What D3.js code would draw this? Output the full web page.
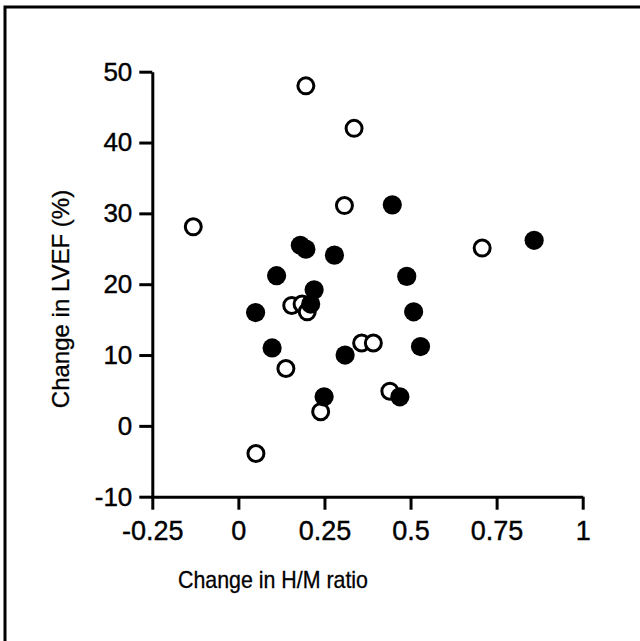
<!DOCTYPE html>
<html>
<head>
<meta charset="utf-8">
<script src="https://cdn.jsdelivr.net/npm/d3@7"></script>
<style>
  html, body { margin: 0; padding: 0; background: #fff; }
  svg { display: block; }
</style>
</head>
<body>
<script>
// ---- data ----
const filledX = [0.180, 0.196, 0.279, 0.111, 0.220, 0.210, 0.050, 0.098, 0.310, 0.249, 0.447, 0.859, 0.489, 0.509, 0.529, 0.469];
const filledY = [25.5, 24.95, 24.1, 21.2, 19.2, 17.2, 16.0, 11.0, 10.0, 4.1, 31.2, 26.2, 21.1, 16.1, 11.2, 4.1];
const openX = [0.196, 0.336, 0.308, -0.131, 0.155, 0.185, 0.200, 0.138, 0.239, 0.358, 0.392, 0.051, 0.708, 0.440];
const openY = [48.0, 42.0, 31.1, 28.1, 17.0, 17.2, 16.1, 8.1, 2.0, 11.7, 11.7, -3.9, 25.1, 4.9];
const xTicks = [-0.25, 0, 0.25, 0.5, 0.75, 1];
const xTickLabels = ["-0.25", "0", "0.25", "0.5", "0.75", "1"];
const yTicks = [-10, 0, 10, 20, 30, 40, 50];
const yTickLabels = ["-10", "0", "10", "20", "30", "40", "50"];
const xTitle = "Change in H/M ratio";
const yTitle = "Change in LVEF (%)";

const W = 640, H = 641;
const svg = d3.select("body").append("svg").attr("width", W).attr("height", H);
const font = "'Liberation Sans', Arial, Helvetica, sans-serif";

// frame
svg.append("path")
  .attr("d", `M5,${H + 5} L5,7 L${W + 5},7`)
  .attr("fill", "none").attr("stroke", "#000").attr("stroke-width", 3);

const x = d3.scaleLinear().domain([-0.25, 1]).range([152.3, 582.7]);
const y = d3.scaleLinear().domain([-10, 50]).range([496.7, 71.7]);

// y axis
const gy = svg.append("g").attr("transform", `translate(${x(-0.25)},0)`)
  .call(d3.axisLeft(y).tickValues(yTicks).tickFormat((d, i) => yTickLabels[i]).tickSize(13).tickSizeOuter(0).tickPadding(7));
// x axis
const gx = svg.append("g").attr("transform", `translate(0,${y(-10)})`)
  .call(d3.axisBottom(x).tickValues(xTicks).tickFormat((d, i) => xTickLabels[i]).tickSize(13).tickSizeOuter(0).tickPadding(11));

[gx, gy].forEach(g => {
  g.select(".domain").attr("stroke", "#000").attr("stroke-width", 3);
  g.selectAll(".tick line").attr("stroke", "#000").attr("stroke-width", 3);
  g.selectAll(".tick text").attr("fill", "#000").attr("font-family", font)
    .attr("stroke", "#000").attr("stroke-width", 0.4);
});
gy.selectAll(".tick text").attr("font-size", 26);
gx.selectAll(".tick text").attr("font-size", 27);

// open circles (white fill), drawn first
svg.append("g").selectAll("circle")
  .data(openX.map((v, i) => [v, openY[i]]))
  .join("circle")
  .attr("cx", d => x(d[0])).attr("cy", d => y(d[1])).attr("r", 8)
  .attr("fill", "#fff").attr("stroke", "#000").attr("stroke-width", 3);

// filled circles
svg.append("g").selectAll("circle")
  .data(filledX.map((v, i) => [v, filledY[i]]))
  .join("circle")
  .attr("cx", d => x(d[0])).attr("cy", d => y(d[1])).attr("r", 9.6)
  .attr("fill", "#000");

// titles
svg.append("text")
  .attr("x", 273).attr("y", 588)
  .attr("text-anchor", "middle")
  .attr("font-family", font).attr("font-size", 24)
  .attr("stroke", "#000").attr("stroke-width", 0.3)
  .attr("textLength", 190).attr("lengthAdjust", "spacingAndGlyphs")
  .text(xTitle);

svg.append("text")
  .attr("transform", `translate(68.5,299) rotate(-90)`)
  .attr("text-anchor", "middle")
  .attr("font-family", font).attr("font-size", 24)
  .attr("stroke", "#000").attr("stroke-width", 0.3)
  .text(yTitle);
</script>
</body>
</html>
